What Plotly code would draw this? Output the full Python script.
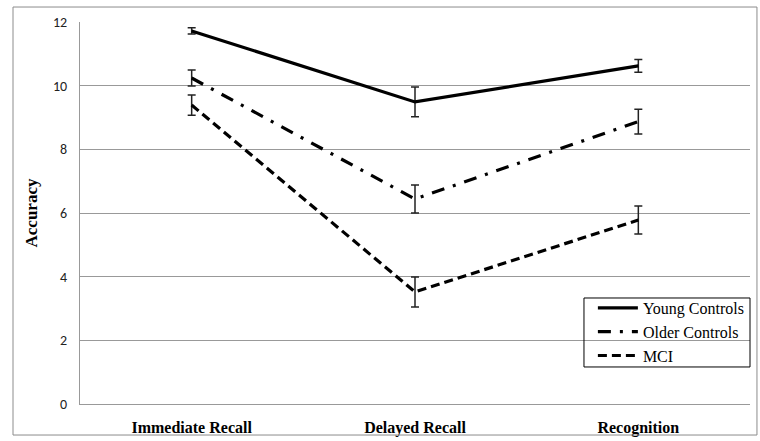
import plotly.graph_objects as go

categories = ["Immediate Recall", "Delayed Recall", "Recognition"]
young = [11.72, 9.49, 10.62]
young_err = [0.1, 0.47, 0.2]
older = [10.24, 6.44, 8.87]
older_err = [0.25, 0.44, 0.39]
mci = [9.39, 3.52, 5.78]
mci_err = [0.32, 0.47, 0.44]
y_ticks = [0, 2, 4, 6, 8, 10, 12]

SERIF = "Times New Roman, Liberation Serif, serif"

series = [
    ("Young Controls", young, young_err, "solid"),
    ("Older Controls", older, older_err, "13px,9px,3px,9px"),
    ("MCI", mci, mci_err, "9px,5px"),
]

fig = go.Figure()
for name, vals, errs, dash in series:
    fig.add_trace(go.Scatter(
        x=categories, y=vals, name=name, mode="lines",
        line=dict(color="black", width=3.2, dash=dash),
        error_y=dict(type="data", array=errs, visible=True,
                     color="#222222", thickness=1.5, width=4),
    ))

fig.update_layout(
    width=760, height=441,
    margin=dict(l=80, r=10, t=22, b=37),
    paper_bgcolor="white", plot_bgcolor="white",
    showlegend=True,
    legend=dict(x=0.7655, y=0.2958, xanchor="left", yanchor="top",
                bgcolor="rgba(0,0,0,0)", borderwidth=0,
                font=dict(family=SERIF, size=16, color="black"),
                tracegroupgap=0, itemwidth=40),
    shapes=[
        dict(type="rect", xref="paper", yref="paper",
             x0=-0.1, x1=1.0104, y0=-0.0812, y1=1.0392,
             line=dict(color="#8c8c8c", width=1), layer="above"),
        dict(type="rect", xref="paper", yref="paper",
             x0=0.7522, x1=1.0, y0=0.0969, y1=0.2775,
             line=dict(color="black", width=1), layer="above"),
    ],
)
fig.update_xaxes(
    type="category", range=[-0.5, 2.5], automargin=False,
    showgrid=False, showline=True, linecolor="#999999", linewidth=1,
    ticks="", ticklabelstandoff=9,
    tickfont=dict(family=SERIF, size=16, color="black", weight="bold"),
)
fig.update_yaxes(
    range=[0, 12], tickvals=y_ticks, automargin=False,
    showgrid=True, gridcolor="#999999",
    gridwidth=1, showline=True, linecolor="#999999", linewidth=1,
    zeroline=False, ticks="", ticklabelstandoff=9,
    tickfont=dict(family="Carlito, Liberation Sans, sans-serif", size=14, color="#222222"),
    title=dict(text="Accuracy", standoff=11,
               font=dict(family=SERIF, size=17, color="black", weight="bold")),
)

fig.write_html("out.html", post_script="document.body.style.margin='0';",
               config={"displayModeBar": False})
